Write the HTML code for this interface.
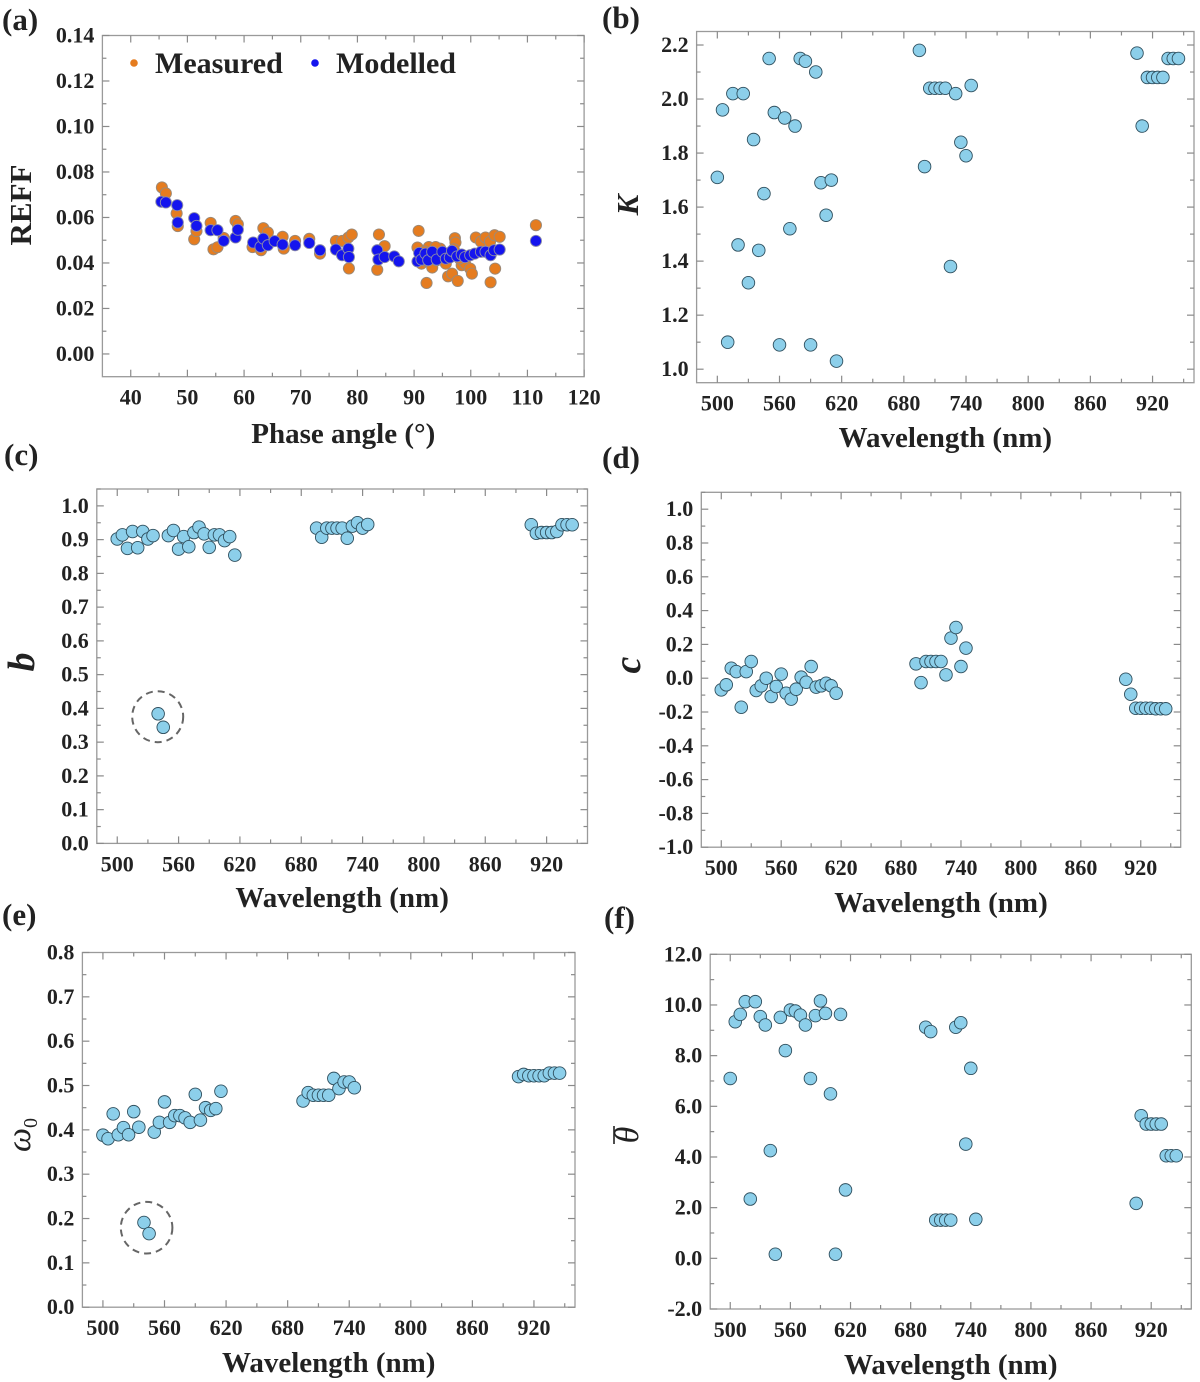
<!DOCTYPE html>
<html><head><meta charset="utf-8"><style>
html,body{margin:0;padding:0;background:#fff;}
svg{display:block;}
svg text{font-family:"Liberation Serif","Times New Roman","DejaVu Serif",serif;}
</style></head><body>
<svg id="fig" width="1200" height="1382" viewBox="0 0 1200 1382" xmlns="http://www.w3.org/2000/svg" font-family="Liberation Serif, Times New Roman, serif"></svg>
<script>
// ---------- data ----------
const wlGroup1 = [500,505,510,515,520,525,530,535,540,545,550,555,560,565,570,575,580,585,590,595,600,605,610,615];
const wlGroup2 = [695,700,705,710,715,720,725,730,735,740,745];
const wlGroup3 = [905,910,915,920,925,930,935,940,945];
const wavelengths = wlGroup1.concat(wlGroup2, wlGroup3);

const measuredPhase = [45.5,46.2,48.1,48.3,51.2,51.6,54.1,54.6,55.3,56.4,58.5,58.9,61.5,63.0,63.4,64.2,66.8,67.0,69.0,71.5,73.4,76.2,77.3,78.4,79.0,78.5,83.5,83.8,84.8,90.8,90.6,91.3,92.2,92.6,93.2,94.0,94.6,95.6,96.0,96.7,97.2,97.3,97.7,98.4,99.0,99.9,100.2,100.9,101.8,102.6,103.4,103.5,104.2,104.3,105.1,111.5,91.8,93.8,95.2,96.5,98.0,92.0,97.0];
const measuredReff = [0.0732,0.0706,0.0618,0.0562,0.0504,0.054,0.0576,0.046,0.0469,0.051,0.0585,0.057,0.047,0.0456,0.0553,0.0534,0.0515,0.0463,0.0497,0.0506,0.0441,0.0497,0.0497,0.0512,0.0525,0.0376,0.037,0.0525,0.0474,0.0541,0.0468,0.0397,0.0312,0.047,0.038,0.0412,0.0463,0.0397,0.0341,0.0353,0.0509,0.049,0.0321,0.039,0.0397,0.0375,0.0353,0.0512,0.0494,0.0512,0.0493,0.0315,0.0522,0.0375,0.0515,0.0566,0.045,0.047,0.044,0.043,0.042,0.041,0.046];
const modelledPhase = [45.4,46.2,48.2,48.3,51.2,51.6,54.1,55.3,56.4,58.5,58.9,61.6,62.9,63.4,64.2,65.4,66.8,69.0,71.5,73.4,76.2,77.3,78.4,78.5,83.5,83.7,84.8,86.5,87.3,90.6,90.9,91.3,92.0,92.5,93.2,94.0,95.0,95.6,96.3,96.7,97.6,98.4,99.0,99.9,100.7,101.8,102.6,103.5,104.1,105.1,111.5];
const modelledReff = [0.0669,0.0666,0.0654,0.0578,0.0597,0.0563,0.0544,0.0544,0.0497,0.0512,0.0546,0.049,0.0471,0.0507,0.0478,0.0496,0.0481,0.0478,0.0488,0.0456,0.0459,0.0434,0.0463,0.0426,0.0456,0.0415,0.0426,0.0429,0.0407,0.0407,0.0444,0.0415,0.0441,0.0412,0.0449,0.0415,0.0449,0.0419,0.0424,0.0453,0.0429,0.0437,0.0426,0.0434,0.0441,0.0449,0.0449,0.0434,0.0456,0.0459,0.0497];

const kValues = [1.71,1.96,1.10,2.02,1.46,2.02,1.32,1.85,1.44,1.65,2.15,1.95,1.09,1.93,1.52,1.90,2.15,2.14,1.09,2.10,1.69,1.57,1.70,1.03,
  2.18,1.75,2.04,2.04,2.04,2.04,1.38,2.02,1.84,1.79,2.05,
  2.17,1.90,2.08,2.08,2.08,2.08,2.15,2.15,2.15];
const bValues = [0.902,0.914,0.874,0.924,0.876,0.924,0.902,0.912,0.384,0.344,0.912,0.927,0.872,0.909,0.879,0.921,0.937,0.917,0.877,0.914,0.914,0.897,0.909,0.854,
  0.934,0.907,0.934,0.934,0.934,0.934,0.904,0.94,0.95,0.934,0.945,
  0.944,0.919,0.921,0.921,0.921,0.924,0.944,0.944,0.944];
const cValues = [-0.069,-0.039,0.059,0.039,-0.172,0.039,0.099,-0.073,-0.045,0.0,-0.108,-0.049,0.024,-0.089,-0.124,-0.065,0.006,-0.024,0.069,-0.053,-0.045,-0.03,-0.045,-0.089,
  0.085,-0.026,0.099,0.099,0.099,0.099,0.02,0.237,0.3,0.069,0.178,
  -0.006,-0.095,-0.178,-0.178,-0.178,-0.178,-0.181,-0.181,-0.181];
const w0Values = [0.388,0.380,0.436,0.389,0.405,0.389,0.441,0.406,0.191,0.166,0.395,0.417,0.463,0.417,0.432,0.432,0.427,0.417,0.480,0.422,0.450,0.444,0.448,0.487,
  0.465,0.484,0.478,0.478,0.478,0.478,0.516,0.493,0.508,0.508,0.495,
  0.520,0.525,0.522,0.522,0.522,0.522,0.528,0.528,0.528];
const thetaValues = [7.1,9.34,9.63,10.13,2.34,10.13,9.54,9.21,4.25,0.16,9.51,8.2,9.8,9.76,9.6,9.21,7.1,9.58,10.16,9.67,6.49,0.16,9.63,2.7,
  9.12,8.95,1.51,1.51,1.51,1.51,9.12,9.3,4.51,7.5,1.54,
  2.17,5.63,5.3,5.3,5.3,5.3,4.05,4.05,4.05];

const phaseTicks = [40,50,60,70,80,90,100,110,120];
const reffTicks = [0.00,0.02,0.04,0.06,0.08,0.10,0.12,0.14];
const wlTicks = [500,560,620,680,740,800,860,920];
const kTicks = [1.0,1.2,1.4,1.6,1.8,2.0,2.2];
const bTicks = [0.0,0.1,0.2,0.3,0.4,0.5,0.6,0.7,0.8,0.9,1.0];
const cTicks = [-1.0,-0.8,-0.6,-0.4,-0.2,0.0,0.2,0.4,0.6,0.8,1.0];
const w0Ticks = [0.0,0.1,0.2,0.3,0.4,0.5,0.6,0.7,0.8];
const thetaTicks = [-2.0,0.0,2.0,4.0,6.0,8.0,10.0,12.0];

// ---------- drawing ----------
const NS = "http://www.w3.org/2000/svg";
const FONT = '"Liberation Serif", "Times New Roman", serif';
const svg = document.getElementById('fig');
function mk(tag, attrs, parent) {
  const e = document.createElementNS(NS, tag);
  for (const k in attrs) e.setAttribute(k, attrs[k]);
  if (tag === 'text') e.setAttribute('font-family', FONT);
  (parent || svg).appendChild(e);
  return e;
}
function scale(d0, d1, r0, r1) { return v => r0 + (v - d0) / (d1 - d0) * (r1 - r0); }

function panel(p) {
  const g = mk('g', {});
  
  
  const sx = scale(p.xd[0], p.xd[1], p.L, p.R);
  const sy = scale(p.yd[0], p.yd[1], p.B, p.T);
  const frame = mk('rect', {x: p.L, y: p.T, width: p.R - p.L, height: p.B - p.T, fill: 'none', stroke: '#9a9a9a', 'stroke-width': 1.3}, g);
  
  
  for (let v = p.xMinorStart; v <= p.xd[1] + 1e-9; v += p.xMinor) {
    const isMajor = p.xTicks.some(t => Math.abs(t - v) < 1e-6);
    const len = isMajor ? 7 : 4;
    const x = sx(v);
    const t1 = mk('line', {x1: x, x2: x, y1: p.B, y2: p.B - len, stroke: '#8a8a8a', 'stroke-width': 1.2}, g);
    
    
    const t2 = mk('line', {x1: x, x2: x, y1: p.T, y2: p.T + len, stroke: '#8a8a8a', 'stroke-width': 1.2}, g);
    
    
  }
  for (let v = p.yMinorStart; v <= p.yd[1] + 1e-9; v += p.yMinor) {
    const isMajor = p.yTicks.some(t => Math.abs(t - v) < 1e-6);
    const len = isMajor ? 7 : 4;
    const y = sy(v);
    const t1 = mk('line', {x1: p.L, x2: p.L + len, y1: y, y2: y, stroke: '#8a8a8a', 'stroke-width': 1.2}, g);
    
    
    const t2 = mk('line', {x1: p.R, x2: p.R - len, y1: y, y2: y, stroke: '#8a8a8a', 'stroke-width': 1.2}, g);
    
    
  }
  p.xTicks.forEach(v => {
    const t = mk('text', {x: sx(v), y: p.B + 28, 'text-anchor': 'middle', 'font-size': 22, 'font-weight': 'bold', fill: '#222'}, g);
    t.textContent = String(v);
    
    
  });
  p.yTicks.forEach(v => {
    const t = mk('text', {x: p.L - 8, y: sy(v) + 7, 'text-anchor': 'end', 'font-size': 22, 'font-weight': 'bold', fill: '#222'}, g);
    t.textContent = v.toFixed(p.yDec);
    
    
  });
  const xt = mk('text', {x: (p.L + p.R) / 2, y: p.xTitleY, 'text-anchor': 'middle', 'font-size': 29, 'font-weight': 'bold', fill: '#222'}, g);
  xt.textContent = p.xTitle;
  
  
  const pl = mk('text', {x: p.labX, y: p.labY, 'font-size': 31, 'font-weight': 'bold', fill: '#222'});
  pl.textContent = p.label;
  
  
  return {g, sx, sy};
}

function dots(ctx, xs, ys, r, fill, stroke, nm) {
  xs.forEach((xv, i) => {
    const c = mk('circle', {cx: ctx.sx(xv), cy: ctx.sy(ys[i]), r: r, fill: fill, stroke: stroke, 'stroke-width': 0.9}, ctx.g);
    
    
  });
}
function ytitle(ctx, x, y, html, style, size) {
  const t = mk('text', {x: x, y: y, transform: 'rotate(-90 ' + x + ' ' + y + ')', 'text-anchor': 'middle', 'font-size': size || 31, fill: '#222', 'font-weight': 'bold'}, ctx.g);
  if (style) t.setAttribute('font-style', style);
  t.innerHTML = html;
  
  
  return t;
}
function dashCircle(ctx, cx, cy, r) {
  const c = mk('circle', {cx: cx, cy: cy, r: r, fill: 'none', stroke: '#666', 'stroke-width': 2, 'stroke-dasharray': '7 5'}, ctx.g);
  
  
}
const BLUE = '#8ccfea', BSTROKE = '#2f4f5e';

// (a)
const A = panel({name: 'panel-a-reff', L: 102.4, R: 584.1, T: 35.5, B: 376.7, xd: [35, 120], yd: [-0.01, 0.14],
  xTicks: phaseTicks, xMinor: 5, xMinorStart: 40, yTicks: reffTicks, yMinor: 0.01, yMinorStart: 0, yDec: 2,
  xTitle: 'Phase angle (°)', xTitleY: 443, label: '(a)', labX: 2, labY: 30});
dots(A, measuredPhase, measuredReff, 5.6, '#e57c1f', '#9a8a7a', 'measured-point');
dots(A, modelledPhase, modelledReff, 5.6, '#1414ee', '#8a8aa8', 'modelled-point');
ytitle(A, 31, 205, 'REFF');
{
  const lg = mk('g', {}, A.g);
  
  
  const d1 = mk('circle', {cx: 134, cy: 63, r: 3.8, fill: '#e57c1f'}, lg);
  
  
  const t1 = mk('text', {x: 155, y: 73, 'font-size': 30, 'font-weight': 'bold', fill: '#222'}, lg);
  t1.textContent = 'Measured';
  
  
  const d2 = mk('circle', {cx: 315, cy: 63, r: 3.8, fill: '#1414ee'}, lg);
  
  
  const t2 = mk('text', {x: 336, y: 73, 'font-size': 30, 'font-weight': 'bold', fill: '#222'}, lg);
  t2.textContent = 'Modelled';
  
  
}

// (b)
const Bp = panel({name: 'panel-b-k', L: 696.6, R: 1194, T: 31.5, B: 382.7, xd: [480, 960], yd: [0.95, 2.25],
  xTicks: wlTicks, xMinor: 30, xMinorStart: 500, yTicks: kTicks, yMinor: 0.1, yMinorStart: 1.0, yDec: 1,
  xTitle: 'Wavelength (nm)', xTitleY: 447, label: '(b)', labX: 602, labY: 28});
dots(Bp, wavelengths, kValues, 6.3, BLUE, BSTROKE, 'k-point');
ytitle(Bp, 638, 205, 'K', 'italic');

// (c)
const C = panel({name: 'panel-c-b', L: 96.8, R: 587.5, T: 489, B: 843.4, xd: [480, 960], yd: [0, 1.05],
  xTicks: wlTicks, xMinor: 30, xMinorStart: 500, yTicks: bTicks, yMinor: 0.05, yMinorStart: 0, yDec: 1,
  xTitle: 'Wavelength (nm)', xTitleY: 907, label: '(c)', labX: 4, labY: 465});
dots(C, wavelengths, bValues, 6.3, BLUE, BSTROKE, 'b-point');
ytitle(C, 34, 662, 'b', 'italic', 38);
dashCircle(C, 157.7, 716.7, 25.5);

// (d)
const D = panel({name: 'panel-d-c', L: 701.3, R: 1180.7, T: 492.3, B: 847.2, xd: [480, 960], yd: [-1.0, 1.1],
  xTicks: wlTicks, xMinor: 30, xMinorStart: 500, yTicks: cTicks, yMinor: 0.1, yMinorStart: -1.0, yDec: 1,
  xTitle: 'Wavelength (nm)', xTitleY: 912, label: '(d)', labX: 602, labY: 468});
dots(D, wavelengths, cValues, 6.3, BLUE, BSTROKE, 'c-point');
ytitle(D, 640, 665, 'c', 'italic', 38);

// (e)
const E = panel({name: 'panel-e-omega0', L: 82.4, R: 575, T: 952.5, B: 1307.2, xd: [480, 960], yd: [0, 0.8],
  xTicks: wlTicks, xMinor: 30, xMinorStart: 500, yTicks: w0Ticks, yMinor: 0.05, yMinorStart: 0, yDec: 1,
  xTitle: 'Wavelength (nm)', xTitleY: 1372, label: '(e)', labX: 2, labY: 925});
dots(E, wavelengths, w0Values, 6.3, BLUE, BSTROKE, 'omega0-point');
ytitle(E, 30, 1135, '<tspan font-style="italic" font-weight="normal">ω</tspan><tspan font-size="20" font-weight="normal" dy="7">0</tspan>', null, 34);
dashCircle(E, 146.6, 1227.7, 25.8);

// (f)
const F = panel({name: 'panel-f-theta', L: 710.2, R: 1191.3, T: 954.3, B: 1309, xd: [480, 960], yd: [-2, 12],
  xTicks: wlTicks, xMinor: 30, xMinorStart: 500, yTicks: thetaTicks, yMinor: 1, yMinorStart: -2, yDec: 1,
  xTitle: 'Wavelength (nm)', xTitleY: 1374, label: '(f)', labX: 604, labY: 928});
dots(F, wavelengths, thetaValues, 6.3, BLUE, BSTROKE, 'theta-point');
ytitle(F, 638, 1135, '<tspan font-style="italic" font-weight="normal">θ</tspan>', null, 34);
{
  const ob = mk('line', {x1: 614, x2: 614, y1: 1126, y2: 1144, stroke: '#222', 'stroke-width': 1.6}, F.g);
  
  
}
</script>
</body></html>
